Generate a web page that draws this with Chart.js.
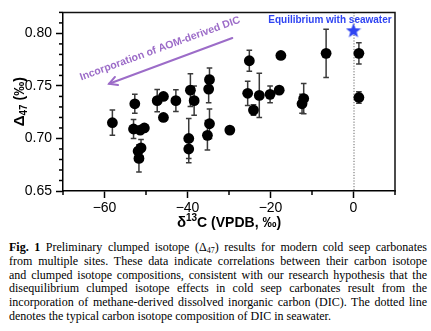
<!DOCTYPE html>
<html><head><meta charset="utf-8">
<script src="https://cdn.jsdelivr.net/npm/chart.js@4/dist/chart.umd.min.js"></script>
<style>
html,body{margin:0;padding:0;background:#fff;width:431px;height:331px;overflow:hidden}
#wrap{position:absolute;left:0;top:0;width:431px;height:235px}
#cap{position:absolute;left:9px;top:241px;width:418px;font-family:"Liberation Serif","Times New Roman",serif;font-size:12px;line-height:13.8px;color:#000}
#cap div{text-align:justify;text-align-last:justify;white-space:nowrap;height:13.8px}
#cap div.last{text-align:left;text-align-last:left}
#cap sub{font-size:8px;line-height:0;vertical-align:-2px}
</style></head>
<body>
<div id="wrap"><canvas id="c" width="431" height="235"></canvas></div>
<div id="cap">
<div><b>Fig. 1</b> Preliminary clumped isotope (Δ<sub>47</sub>) results for modern cold seep carbonates</div>
<div>from multiple sites. These data indicate correlations between their carbon isotope</div>
<div>and clumped isotope compositions, consistent with our research hypothesis that the</div>
<div>disequilibrium clumped isotope effects in cold seep carbonates result from the</div>
<div>incorporation of methane-derived dissolved inorganic carbon (DIC). The dotted line</div>
<div class="last">denotes the typical carbon isotope composition of DIC in seawater.</div>
</div>
<script>
// ---- data ----
const carbonIsotope = [-58.1,-52.7,-53.0,-51.4,-50.4,-51.2,-51.9,-51.7,-47.3,-45.8,-45.8,-42.8,-39.3,-38.4,-39.7,-39.7,-34.7,-34.9,-34.7,-35.2,-29.8,-25.1,-17.5,-25.5,-24.1,-22.7,-20.1,-17.9,-6.6,-12.0,-12.4,1.3,1.3];
const clumpedD47 = [0.715,0.733,0.709,0.708,0.710,0.691,0.688,0.681,0.736,0.740,0.720,0.736,0.746,0.736,0.700,0.690,0.756,0.747,0.714,0.703,0.708,0.774,0.779,0.743,0.727,0.741,0.742,0.746,0.781,0.738,0.733,0.781,0.739];
const d47Error = [0.012,0.009,0.009,null,null,0.008,null,0.013,0.0105,null,null,0.0104,0.0155,0.014,0.019,0.013,0.011,0.013,0.014,0.014,null,0.010,null,0.0115,0.005,0.021,0.008,null,0.023,0.0144,0.009,0.010,0.0055];
const seawaterD13C = [0];
const seawaterD47 = [0.803];
const seawaterDICLine = 0;
const xTickValues = [-60,-40,-20,0];
const yTickValues = [0.65,0.70,0.75,0.80];

// ---- annotation anchors (data coordinates) ----
const eqLabelAt = {x:-5.67, y:0.8121};
const aomLabelAt = {x:-46.6, y:0.7855};
const aomArrowFrom = {x:-29.2, y:0.7956};
const aomArrowTo = {x:-58.9, y:0.7521};

const SANS = '"Liberation Sans", Arial, Helvetica, sans-serif';
const PURPLE = '#9c6cc8';
const BLUE = '#2f44f2';

function makeStar(size,color){
  const c=document.createElement('canvas'); c.width=c.height=size;
  const g=c.getContext('2d'); g.fillStyle=color; g.beginPath();
  const R=size/2, r=R*0.42;
  for(let i=0;i<10;i++){const a=-Math.PI/2+i*Math.PI/5; const rr=i%2?r:R; g.lineTo(R+rr*Math.cos(a), R*1.08+rr*Math.sin(a));}
  g.closePath(); g.fill(); return c;
}
const starImg = makeStar(16, BLUE);

const isMajorX = v => xTickValues.some(t=>Math.abs(t-v)<1e-6);
const isMajorY = v => yTickValues.some(t=>Math.abs(t-v)<1e-6);

function drawRich(ctx, parts, cx, cy){
  let w=0;
  parts.forEach(p=>{ctx.font=p.font; p.w=ctx.measureText(p.t).width; w+=p.w;});
  let x=cx-w/2;
  ctx.textAlign='left'; ctx.textBaseline='alphabetic';
  parts.forEach(p=>{ctx.font=p.font; ctx.fillText(p.t,x,cy+(p.dy||0)); x+=p.w;});
}

const decor = {
  id:'decor',
  beforeDatasetsDraw(chart){
    const {ctx, chartArea:a, scales:{x,y}} = chart;
    ctx.save();
    // dotted seawater DIC line
    const px = x.getPixelForValue(seawaterDICLine);
    ctx.strokeStyle='#666'; ctx.lineWidth=1; ctx.setLineDash([1.2,1.6]);
    ctx.beginPath(); ctx.moveTo(px+0.5,a.top); ctx.lineTo(px+0.5,a.bottom); ctx.stroke();
    ctx.setLineDash([]);
    // error bars
    ctx.strokeStyle='#3a3a3a'; ctx.lineWidth=1.5;
    carbonIsotope.forEach((cv,i)=>{
      const e=d47Error[i]; if(e==null) return;
      const X=x.getPixelForValue(cv);
      const y1=y.getPixelForValue(clumpedD47[i]+e), y2=y.getPixelForValue(clumpedD47[i]-e);
      ctx.beginPath();
      ctx.moveTo(X,y1); ctx.lineTo(X,y2);
      ctx.moveTo(X-2.8,y1); ctx.lineTo(X+2.8,y1);
      ctx.moveTo(X-2.8,y2); ctx.lineTo(X+2.8,y2);
      ctx.stroke();
    });
    ctx.restore();
  },
  afterDraw(chart){
    const {ctx, chartArea:a, scales:{x,y}} = chart;
    ctx.save();
    // frame top/right
    ctx.strokeStyle='#111'; ctx.lineWidth=1.5;
    ctx.beginPath(); ctx.moveTo(a.left,a.top); ctx.lineTo(a.right,a.top); ctx.lineTo(a.right,a.bottom); ctx.stroke();
    // minor ticks
    ctx.lineWidth=1.5; ctx.strokeStyle='#000';
    x.ticks.forEach(t=>{ if(isMajorX(t.value)) return; const X=x.getPixelForValue(t.value); ctx.beginPath(); ctx.moveTo(X,a.bottom); ctx.lineTo(X,a.bottom+4); ctx.stroke();});
    y.ticks.forEach(t=>{ if(isMajorY(t.value)) return; const Y=y.getPixelForValue(t.value); ctx.beginPath(); ctx.moveTo(a.left,Y); ctx.lineTo(a.left-4,Y); ctx.stroke();});
    // axis titles
    ctx.fillStyle='#000';
    drawRich(ctx,[{t:'δ',font:'bold 15px '+SANS},{t:'13',font:'bold 10px '+SANS,dy:-6},{t:'C (VPDB, ‰)',font:'bold 14px '+SANS}],(a.left+a.right)/2,227);
    ctx.save(); ctx.translate(24,(a.top+a.bottom)/2); ctx.rotate(-Math.PI/2);
    drawRich(ctx,[{t:'Δ',font:'bold 15px '+SANS},{t:'47',font:'bold 10px '+SANS,dy:3},{t:' (‰)',font:'bold 14px '+SANS}],0,0);
    ctx.restore();
    // equilibrium label
    ctx.fillStyle=BLUE; ctx.font='bold 10px '+SANS; ctx.textAlign='center'; ctx.textBaseline='middle';
    ctx.fillText('Equilibrium with seawater', x.getPixelForValue(eqLabelAt.x), y.getPixelForValue(eqLabelAt.y));
    // AOM arrow
    const ax1=x.getPixelForValue(aomArrowFrom.x), ay1=y.getPixelForValue(aomArrowFrom.y);
    const ax2=x.getPixelForValue(aomArrowTo.x), ay2=y.getPixelForValue(aomArrowTo.y);
    ctx.strokeStyle=PURPLE; ctx.lineWidth=2; ctx.lineCap='round';
    ctx.beginPath(); ctx.moveTo(ax1,ay1); ctx.lineTo(ax2,ay2); ctx.stroke();
    const ang=Math.atan2(ay1-ay2, ax1-ax2);
    ctx.beginPath();
    ctx.moveTo(ax2+9*Math.cos(ang+0.5), ay2+9*Math.sin(ang+0.5)); ctx.lineTo(ax2,ay2);
    ctx.lineTo(ax2+9*Math.cos(ang-0.5), ay2+9*Math.sin(ang-0.5)); ctx.stroke();
    ctx.save();
    ctx.translate(x.getPixelForValue(aomLabelAt.x), y.getPixelForValue(aomLabelAt.y));
    ctx.rotate(-20*Math.PI/180);
    ctx.fillStyle=PURPLE; ctx.font='bold 10.5px '+SANS; ctx.textAlign='center'; ctx.textBaseline='middle';
    ctx.fillText('Incorporation of AOM-derived DIC',0,0);
    ctx.restore();
    ctx.restore();
  }
};

new Chart(document.getElementById('c'), {
  type:'scatter',
  data:{datasets:[
    {label:'Cold seep carbonates', data:carbonIsotope.map((v,i)=>({x:v,y:clumpedD47[i]})),
     pointRadius:5.4, pointHoverRadius:5.4, backgroundColor:'#000', borderColor:'#000', borderWidth:0},
    {label:'Equilibrium with seawater', data:seawaterD13C.map((v,i)=>({x:v,y:seawaterD47[i]})),
     pointStyle:starImg, pointRadius:8, backgroundColor:BLUE, borderWidth:0}
  ]},
  options:{
    responsive:false, animation:false, devicePixelRatio:1,
    layout:{padding:{top:5,right:36,left:0,bottom:0}},
    plugins:{legend:{display:false}, tooltip:{enabled:false}},
    scales:{
      x:{type:'linear', min:-70, max:10,
        afterFit:s=>{s.height=44;},
        ticks:{stepSize:10, autoSkip:false, maxRotation:0, padding:2, color:'#000',
          font:{family:SANS,size:14},
          callback:v=> isMajorX(v) ? (v<0?'\u2212'+Math.abs(v):String(v)) : ''},
        grid:{drawOnChartArea:false, drawTicks:true, tickLength:7, tickWidth:1.5,
          tickColor:c=> (c.tick && isMajorX(c.tick.value)) ? '#000' : 'rgba(0,0,0,0)'},
        border:{display:true,color:'#000',width:1.5}},
      y:{type:'linear', min:0.65, max:0.82,
        afterFit:s=>{s.width=63;},
        ticks:{stepSize:0.01, autoSkip:false, padding:4, color:'#000',
          font:{family:SANS,size:14},
          callback:v=> isMajorY(v) ? v.toFixed(2) : ''},
        grid:{drawOnChartArea:false, drawTicks:true, tickLength:7, tickWidth:1.5,
          tickColor:c=> (c.tick && isMajorY(c.tick.value)) ? '#000' : 'rgba(0,0,0,0)'},
        border:{display:true,color:'#000',width:1.5}}
    }
  },
  plugins:[decor]
});
</script>
</body></html>
